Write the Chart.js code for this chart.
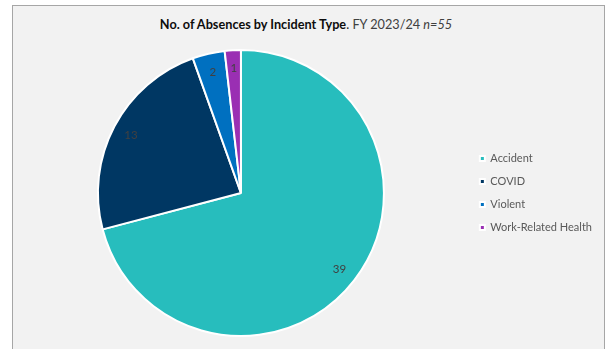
<!DOCTYPE html>
<html>
<head>
<meta charset="utf-8">
<script src="https://cdn.jsdelivr.net/npm/chart.js@4"></script>
<style>
  html, body { margin: 0; padding: 0; background: #fff; }
  #frame {
    position: absolute; left: 12px; top: 5px; width: 591px; height: 360px;
    background: #f2f2f2; border: 1px solid #a6a6a6; border-bottom: none;
  }
  #title {
    position: absolute; left: 3px; top: 16px; width: 606px; text-align: center;
    font-family: Lato, "Open Sans", sans-serif; font-size: 12.7px; color: #262626;
  }
  #title b { font-weight: bold; color: #0d0d0d; }
  #title span { color: #404040; }
  #wrap { position: absolute; left: 0; top: 0; width: 606px; height: 349px; }
</style>
</head>
<body>
<div id="frame"></div>
<div id="title"><b>No. of Absences by Incident Type</b>. <span>FY 2023/24 <i>n=55</i></span></div>
<div id="wrap"><canvas id="myChart" width="606" height="349"></canvas></div>
<script>
var categories = ['Accident', 'COVID', 'Violent', 'Work-Related Health'];
var absences = [39, 13, 2, 1];
var colours = ['#27bdbd', '#003763', '#0070c0', '#9a2fb3'];

// Excel-style value labels inside each slice
var sliceLabels = {
    id: 'sliceLabels',
    afterDatasetsDraw: function(chart) {
        var ctx = chart.ctx;
        var meta = chart.getDatasetMeta(0);
        ctx.save();
        ctx.font = '11.5px Lato, "Open Sans", sans-serif';
        ctx.fillStyle = '#404040';
        ctx.textAlign = 'center';
        ctx.textBaseline = 'middle';
        meta.data.forEach(function(arc, i) {
            var mid = (arc.startAngle + arc.endAngle) / 2;
            var r = arc.outerRadius * 0.87;
            ctx.fillText(String(absences[i]), arc.x + Math.cos(mid) * r, arc.y + Math.sin(mid) * r);
        });
        ctx.restore();
    }
};

var ctx = document.getElementById('myChart').getContext('2d');
var myChart = new Chart(ctx, {
    type: 'pie',
    data: {
        labels: categories,
        datasets: [{
            data: absences,
            backgroundColor: colours,
            borderColor: '#ffffff',
            borderWidth: 2
        }]
    },
    options: {
        responsive: false,
        animation: false,
        radius: 143,
        layout: {
            padding: { left: 14, right: 4, top: 50, bottom: 13 }
        },
        plugins: {
            legend: {
                position: 'right',
                labels: {
                    boxWidth: 5,
                    boxHeight: 5,
                    padding: 12,
                    color: '#595959',
                    font: { family: 'Lato, "Open Sans", sans-serif', size: 11 }
                }
            },
            tooltip: { enabled: false }
        }
    },
    plugins: [sliceLabels]
});
</script>
</body>
</html>
